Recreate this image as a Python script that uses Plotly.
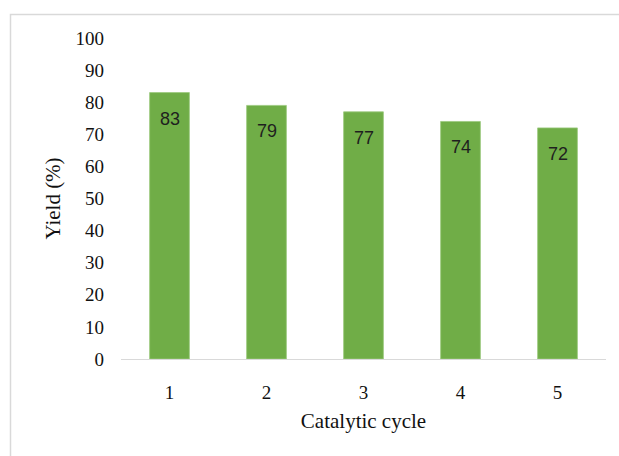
import plotly.graph_objects as go

# Yield over repeated catalytic cycles
cycles = ["1", "2", "3", "4", "5"]
yields = [83, 79, 77, 74, 72]
y_ticks = [0, 10, 20, 30, 40, 50, 60, 70, 80, 90, 100]

W, H = 619, 456
L, R, T, B = 121, 13, 38, 97
plot_w = W - L - R
plot_h = H - T - B

bar_color = "#70AD47"
serif = "Liberation Serif, Times New Roman, serif"
sans = "Liberation Sans, Arial, sans-serif"

fig = go.Figure()
fig.add_trace(go.Bar(
    x=cycles,
    y=yields,
    width=0.41,
    marker=dict(color=bar_color, line=dict(color="#9cc97f", width=0.8)),
    hoverinfo="x+y",
))

# value labels sitting just inside the top of each bar
# (category axis: annotations are placed by category index)
for i, v in enumerate(yields):
    fig.add_annotation(
        x=i, y=v, text=str(v), showarrow=False,
        yanchor="top", yshift=-14,
        font=dict(family=sans, size=18, color="#1f1f1f"),
    )

# light outer frame around the chart area
fig.add_shape(
    type="rect", xref="paper", yref="paper",
    x0=(10.5 - L) / plot_w, x1=(W + 20 - L) / plot_w,
    y0=-(H + 20 - (H - B)) / plot_h, y1=((H - B) - 14.5) / plot_h,
    line=dict(color="#d9d9d9", width=1.5), fillcolor="rgba(0,0,0,0)",
    layer="below",
)

fig.update_layout(
    width=W, height=H,
    margin=dict(l=L, r=R, t=T, b=B, pad=0),
    paper_bgcolor="white", plot_bgcolor="white",
    showlegend=False,
    xaxis=dict(
        type="category", range=[-0.5, len(cycles) - 0.5],
        showline=True, linecolor="#d9d9d9", linewidth=1.2,
        showgrid=False, zeroline=False,
        ticks="", ticklabelstandoff=16,
        tickfont=dict(family=serif, size=19, color="#111111"),
        title=dict(text="Catalytic cycle", standoff=11,
                   font=dict(family=serif, size=21, color="#111111")),
    ),
    yaxis=dict(
        range=[0, 100], tickvals=y_ticks,
        showline=False, showgrid=False, zeroline=False,
        ticks="", ticklabelstandoff=16,
        tickfont=dict(family=serif, size=19, color="#111111"),
        title=dict(text="Yield (%)", standoff=9,
                   font=dict(family=serif, size=21, color="#111111")),
    ),
)

fig.write_html("out.html")
